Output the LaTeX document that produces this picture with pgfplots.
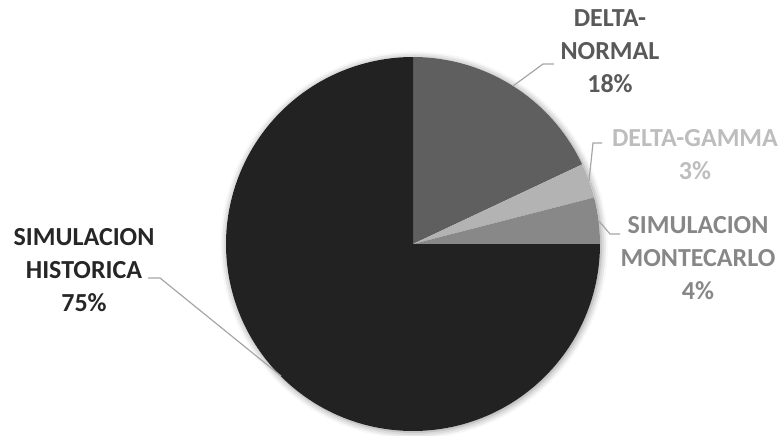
\documentclass[border=0pt]{standalone}
\usepackage{pgfplots}
\pgfplotsset{compat=1.18}
\usepackage{pgfplotstable}
\usepackage{fontspec}
\setmainfont{Carlito}
\usetikzlibrary{shadows.blur}
\definecolor{cNormal}{HTML}{5F5F5F}
\definecolor{cGamma}{HTML}{B3B3B3}
\definecolor{cMonte}{HTML}{888888}
\definecolor{cHist}{HTML}{222222}
\definecolor{tNormal}{HTML}{595959}
\definecolor{tGamma}{HTML}{BDBDBD}
\definecolor{tMonte}{HTML}{878787}
\definecolor{tHist}{HTML}{262626}
\definecolor{leader}{HTML}{A6A6A6}
\tikzset{lbl/.style={font=\bfseries\fontsize{19.5}{24.75}\selectfont, inner sep=0pt, anchor=base}}
\pgfplotstableread{
idx pct
0 18
1 3
2 4
3 75
}\piedata
\begin{document}
\begin{tikzpicture}
\begin{axis}[
  scale only axis, width=588pt, height=326.25pt,
  xmin=0, xmax=784, ymin=0, ymax=435, y dir=reverse,
  hide axis, clip=false,
]
\path (axis cs:0,0) rectangle (axis cs:784,435);
\pgfplotsextra{
  \fill[white, blur shadow={shadow xshift=0.8pt, shadow yshift=-0.8pt, shadow blur radius=5pt, shadow opacity=45}] (axis cs:413,244) circle[radius=140.25pt];
  \gdef\cum{90}
  \foreach \i/\col in {0/cNormal,1/cGamma,2/cMonte,3/cHist}{
    \pgfplotstablegetelem{\i}{pct}\of\piedata
    \pgfmathsetmacro\endang{\cum-3.6*\pgfplotsretval}
    \fill[\col] (axis cs:413,244) -- ++(\cum:140.25pt) arc[start angle=\cum, end angle=\endang, radius=140.25pt] -- cycle;
    \xdef\cum{\endang}
  }
}
% leader lines
\draw[leader, line width=0.9pt] (axis cs:554,64) -- (axis cs:543,64) -- (axis cs:513,86);
\draw[leader, line width=0.9pt] (axis cs:602,143) -- (axis cs:593,143) -- (axis cs:589,181);
\draw[leader, line width=0.9pt] (axis cs:620,234) -- (axis cs:610,234) -- (axis cs:599,221);
\draw[leader, line width=0.9pt] (axis cs:148,278) -- (axis cs:160,278) -- (axis cs:281,376);
% labels
\node[lbl, tNormal] at (axis cs:610,27) {DELTA-};
\node[lbl, tNormal] at (axis cs:610,60) {NORMAL};
\node[lbl, tNormal] at (axis cs:610,93) {18\%};
\node[lbl, tGamma] at (axis cs:695,146) {DELTA-GAMMA};
\node[lbl, tGamma] at (axis cs:695,179) {3\%};
\node[lbl, tMonte] at (axis cs:698,233) {SIMULACION};
\node[lbl, tMonte] at (axis cs:698,266) {MONTECARLO};
\node[lbl, tMonte] at (axis cs:698,299) {4\%};
\node[lbl, tHist] at (axis cs:84,245) {SIMULACION};
\node[lbl, tHist] at (axis cs:84,278) {HISTORICA};
\node[lbl, tHist] at (axis cs:84,311) {75\%};
\end{axis}
\end{tikzpicture}
\end{document}
